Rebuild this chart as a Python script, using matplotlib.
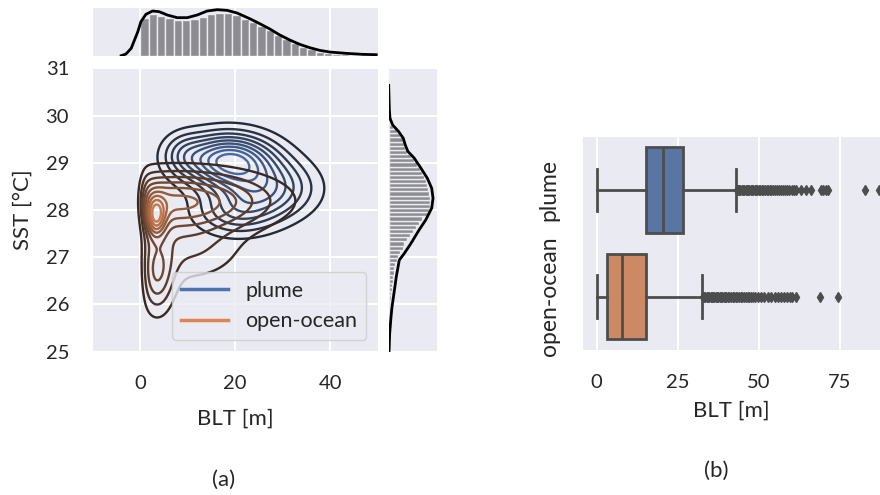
import numpy as np
import matplotlib
matplotlib.use("Agg")
import matplotlib.pyplot as plt
from matplotlib.colors import LinearSegmentedColormap
from matplotlib.lines import Line2D

plt.rcParams["font.family"] = ["Lato", "DejaVu Sans"]
plt.rcParams["text.color"] = ".15"
plt.rcParams["axes.labelcolor"] = ".15"
plt.rcParams["xtick.color"] = ".15"
plt.rcParams["ytick.color"] = ".15"

BG = "#EAEAF2"
BLUE = "#4C72B0"
ORANGE = "#DD8452"

# ---- density components (BLT [m], SST [degC]) ----
# each row: mean BLT, mean SST, sd BLT, sd SST, relative amplitude
plume_comp = [
    [18.5, 29.05, 6.5, 0.38, 1.00],
    [27.0, 28.45, 6.5, 0.42, 0.55],
    [20.0, 27.95, 6.0, 0.35, 0.35],
    [9.0, 29.2, 3.0, 0.3, 0.2],
]
ocean_comp = [
    [3.3, 27.85, 1.4, 0.28, 0.50],
    [8.0, 28.2, 13.0, 0.42, 0.60],
    [3.5, 26.6, 2.5, 0.55, 0.35],
    [10.0, 27.2, 8.0, 0.50, 0.20],
]
blt_lower_bound = 0.4  # BLT cannot be negative: density falls off below this

blt_bin_edges = np.linspace(0, 88, 51)
blt_hist = [112, 124, 119, 112, 107, 107, 110, 117, 124, 127,
            127, 121, 110, 100, 90, 77, 62, 49, 37, 27,
            19, 12, 7, 5, 4, 3, 2, 2, 1, 1,
            1, 1, 1, 0.5, 0.5, 0.5, 0.5, 0.5, 0, 0,
            0, 0, 0, 0, 0, 0, 0, 0, 0, 0]
blt_kde_x = [-4.0, -3.0, -1.9, -0.5, 0.15, 1.2, 2.6, 4.0, 5.7, 7.8, 9.9, 12.0, 14.1,
             16.2, 18.3, 20.4, 23.2, 25.3, 27.3, 29.4, 31.5, 33.6, 35.7, 37.8,
             39.9, 43.4, 46.9, 49.7]
blt_kde_y = [0, 5, 22, 72, 102, 124, 134, 132, 122, 114, 114, 122, 134,
             138, 136, 128, 110, 95, 80, 62, 47, 34, 24, 16,
             11, 7, 4, 3]

# ---- marginal histogram of SST (50 bins, 25.4-29.8 degC) ----
sst_bin_edges = np.linspace(25.4, 29.8, 51)
sst_hist = [1, 1, 2, 2, 3, 3,
            4, 5, 6, 7, 9, 10, 12, 14, 15, 17, 20, 24, 28, 34, 42, 47,
            54, 64, 72, 82, 92, 100,
            122, 122, 124, 124, 124, 122, 120, 117, 112, 107, 100,
            95, 87, 77, 67, 54, 48, 47, 42, 34, 24,
            12]
sst_kde_y = [25.0, 25.39, 25.74, 25.95, 26.24, 26.59, 26.94, 27.08, 27.29, 27.58,
             27.79, 28.04, 28.25, 28.46, 28.67, 28.89, 29.10, 29.24, 29.38,
             29.52, 29.66, 29.80, 29.94, 30.11, 30.64]
sst_kde_x = [1, 3, 7, 10, 16, 23, 32, 47, 67, 92,
             112, 130, 134, 130, 117, 97, 77, 58, 50,
             44, 30, 12, 4, 2, 0]

# ---- box plot statistics of BLT ----
groups = ["plume", "open-ocean"]
box_colors = ["#5875A4", "#CC8963"]
whislo = [0.0, 0.0]
q1 = [15.2, 3.3]
med = [20.6, 7.7]
q3 = [26.7, 15.2]
whishi = [42.9, 32.4]
plume_fliers = [43.2, 43.6, 44.0, 44.4, 44.8, 45.2, 45.6, 46.0, 46.4, 46.8, 47.2,
                47.6, 48.0, 48.4, 48.8, 49.2, 49.6, 50.0, 50.5, 51.0, 51.5, 52.0,
                52.5, 53.0, 53.5, 54.0, 54.6, 55.2, 55.8, 56.4, 57.0, 57.6, 58.2,
                58.8, 59.5, 60.2, 61.0, 61.7, 63.2, 64.5, 66.3, 69.3, 70.0, 70.7,
                71.4, 82.8, 87.3]
ocean_fliers = [32.8, 33.2, 33.6, 34.0, 34.4, 34.8, 35.2, 35.6, 36.0, 36.4, 36.8,
                37.2, 37.6, 38.0, 38.4, 38.8, 39.2, 39.6, 40.0, 40.5, 41.0, 41.5,
                42.0, 42.5, 43.0, 43.5, 44.0, 44.5, 45.0, 45.5, 46.0, 46.6, 47.2,
                47.8, 48.4, 49.0, 49.8, 50.8, 51.8, 52.8, 54.0, 55.0, 56.0, 57.0,
                58.0, 58.8, 59.6, 60.4, 61.6, 68.9, 74.4]
fliers = [plume_fliers, ocean_fliers]


def density(comp, xx, yy):
    z = np.zeros_like(xx)
    for mx, my, sx, sy, a in comp:
        z += a * np.exp(-0.5 * (((xx - mx) / sx) ** 2 + ((yy - my) / sy) ** 2))
    z = z / (1 + np.exp(-(xx - blt_lower_bound) / 0.6))
    return z / z.max()


def style_ax(ax):
    ax.set_facecolor(BG)
    for s in ax.spines.values():
        s.set_visible(False)
    ax.grid(True, color="white", linewidth=1.5)
    ax.set_axisbelow(True)
    ax.tick_params(length=0, labelsize=14.5, pad=17)


fig = plt.figure(figsize=(8.8, 4.95), dpi=100)
W, H = 880.0, 495.0


def add_ax(x0, y0, x1, y1):
    return fig.add_axes([x0 / W, 1 - y1 / H, (x1 - x0) / W, (y1 - y0) / H])


ax = add_ax(92.7, 68.3, 377.7, 351.7)
ax_top = add_ax(92.7, 8, 377.7, 55.7)
ax_right = add_ax(388.7, 68.3, 437, 351.7)
ax_box = add_ax(583.3, 136.7, 880, 350)

for a in [ax, ax_top, ax_right, ax_box]:
    style_ax(a)

# ---- joint KDE contours ----
gx = np.linspace(-10, 50, 300)
gy = np.linspace(25, 31, 300)
xx, yy = np.meshgrid(gx, gy)
cm_plume = LinearSegmentedColormap.from_list("pl", ["#202329", BLUE])
cm_ocean = LinearSegmentedColormap.from_list("oc", ["#261f1c", ORANGE])
ax.contour(xx, yy, density(plume_comp, xx, yy), levels=10, cmap=cm_plume, linewidths=1.7)
ax.contour(xx, yy, density(ocean_comp, xx, yy), levels=10, cmap=cm_ocean, linewidths=1.7)
ax.set_xlim(-10, 50)
ax.set_ylim(25, 31)
ax.set_xticks([0, 20, 40])
ax.set_yticks([25, 26, 27, 28, 29, 30, 31])
ax.set_xlabel("BLT [m]", fontsize=16, labelpad=12)
ax.set_ylabel("SST [°C]", fontsize=16, labelpad=9)
handles = [Line2D([], [], color=BLUE, lw=2.5), Line2D([], [], color=ORANGE, lw=2.5)]
ax.legend(handles, groups, loc="lower right", bbox_to_anchor=(0.959, 0.041),
          borderaxespad=0, fontsize=15.5, facecolor=BG, edgecolor="#cccccc",
          framealpha=0.8, handlelength=2.2)

# ---- marginals ----
ax_top.hist(blt_bin_edges[:-1], bins=blt_bin_edges, weights=blt_hist,
            color="#8c8c91", edgecolor=BG, linewidth=1.0)
ax_top.plot(blt_kde_x, blt_kde_y, color="black", lw=2)
ax_top.set_xlim(-10, 50)
ax_top.set_ylim(0, 143)
ax_top.set_xticks([0, 20, 40])
ax_top.yaxis.grid(False)
ax_top.tick_params(labelbottom=False, labelleft=False)

ax_right.hist(sst_bin_edges[:-1], bins=sst_bin_edges, weights=sst_hist,
              orientation="horizontal", color="#8c8c91", edgecolor=BG, linewidth=1.0)
ax_right.plot(sst_kde_x, sst_kde_y, color="black", lw=2)
ax_right.set_ylim(25, 31)
ax_right.set_xlim(0, 146)
ax_right.set_yticks([25, 26, 27, 28, 29, 30, 31])
ax_right.xaxis.grid(False)
ax_right.tick_params(labelbottom=False, labelleft=False)

# ---- box plot ----
stats = []
for i, g in enumerate(groups):
    stats.append(dict(label=g, whislo=whislo[i], q1=q1[i], med=med[i], q3=q3[i],
                      whishi=whishi[i], fliers=fliers[i]))
line_c = "#4d4d4d"
bp = ax_box.bxp(stats, positions=[0, 1], vert=False, widths=0.8, patch_artist=True,
                boxprops=dict(edgecolor=line_c, linewidth=2),
                medianprops=dict(color=line_c, linewidth=2),
                whiskerprops=dict(color=line_c, linewidth=2),
                capprops=dict(color=line_c, linewidth=2),
                flierprops=dict(marker="d", markersize=5, markerfacecolor=line_c,
                                markeredgecolor=line_c, linestyle="none"))
for patch, c in zip(bp["boxes"], box_colors):
    patch.set_facecolor(c)
ax_box.set_ylim(1.5, -0.5)
ax_box.set_xlim(-4.1, 87.5)
ax_box.set_xticks([0, 25, 50, 75])
ax_box.yaxis.grid(False)
ax_box.set_yticks([0, 1])
ax_box.set_yticklabels(groups, rotation=90, va="center", fontsize=16.5)
ax_box.tick_params(axis="y", pad=17)
ax_box.set_xlabel("BLT [m]", fontsize=16, labelpad=7)

fig.text(224 / W, 1 - 480 / H, "(a)", ha="center", va="center", fontsize=16)
fig.text(716 / W, 1 - 471 / H, "(b)", ha="center", va="center", fontsize=16)

fig.savefig("out.png", dpi=100)
